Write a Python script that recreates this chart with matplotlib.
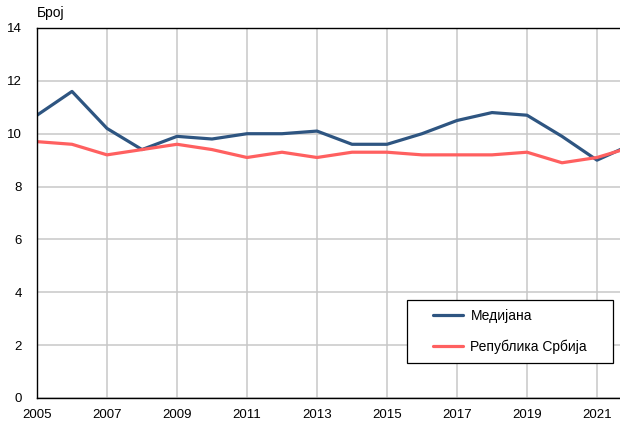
import matplotlib.pyplot as plt
from matplotlib.patches import Rectangle

plt.rcParams['font.family'] = ['Liberation Sans', 'DejaVu Sans']

# Годишње вредности
godine = list(range(2005, 2023))
medijana = [10.7, 11.6, 10.2, 9.4, 9.9, 9.8, 10.0, 10.0, 10.1, 9.6,
            9.6, 10.0, 10.5, 10.8, 10.7, 9.9, 9.0, 9.6]
srbija = [9.7, 9.6, 9.2, 9.4, 9.6, 9.4, 9.1, 9.3, 9.1, 9.3,
          9.3, 9.2, 9.2, 9.2, 9.3, 8.9, 9.1, 9.5]

x_oznake = list(range(2005, 2022, 2))
y_oznake = list(range(0, 15, 2))

fig = plt.figure(figsize=(6.2, 4.21), dpi=100)
# оса се шири мало преко десне ивице слике
ax = fig.add_axes([37 / 620, 23 / 421, 595 / 620, 370 / 421])

ax.plot(godine, medijana, color='#2E5581', linewidth=2.3, label='Медијана',
        solid_capstyle='round', solid_joinstyle='round')
ax.plot(godine, srbija, color='#FF6060', linewidth=2.3, label='Република Србија',
        solid_capstyle='round', solid_joinstyle='round')

ax.set_xlim(2005, 2022)
ax.set_ylim(0, 14)
ax.set_xticks(x_oznake)
ax.set_yticks(y_oznake)
ax.tick_params(length=0, labelsize=9.5, colors='black')
ax.tick_params(axis='y', pad=11)
ax.tick_params(axis='x', pad=8)

ax.grid(True, color='#C8C8C8', linewidth=1.1)
ax.set_axisbelow(True)
for s in ['left', 'bottom', 'top']:
    ax.spines[s].set_color('black')
    ax.spines[s].set_linewidth(1.0)
ax.spines['right'].set_visible(False)

fig.text(37 / 620, 1 - 13 / 421, 'Број', fontsize=10, va='center', ha='left')

# оквир легенде
lx, ly, lw, lh = 407 / 620, 1 - 363 / 421, 206 / 620, 63 / 421
ax.add_patch(Rectangle((lx, ly), lw, lh, transform=fig.transFigure, clip_on=False,
                       facecolor='white', edgecolor='black', linewidth=0.9, zorder=5))
leg = ax.legend(loc='center', bbox_to_anchor=(lx + lw / 2, ly + lh / 2),
                bbox_transform=fig.transFigure, frameon=False, fontsize=10,
                handlelength=2.2, labelspacing=1.2, handletextpad=0.5, borderaxespad=0)
leg.set_zorder(6)

plt.savefig('out.png', dpi=100)
